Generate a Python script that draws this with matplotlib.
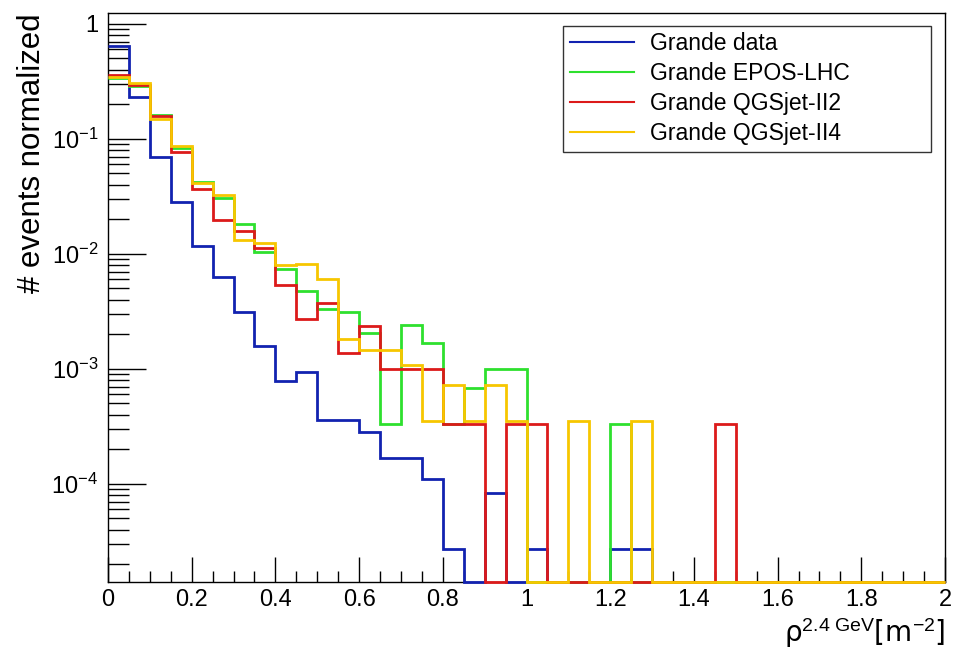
import numpy as np
import matplotlib
matplotlib.use("Agg")
import matplotlib.pyplot as plt
from matplotlib.ticker import FixedLocator, FuncFormatter, MultipleLocator, LogLocator, NullFormatter

plt.rcParams['font.family'] = ['Liberation Sans', 'DejaVu Sans']
plt.rcParams['mathtext.fontset'] = 'custom'
plt.rcParams['mathtext.rm'] = 'Liberation Sans'
plt.rcParams['mathtext.it'] = 'Liberation Sans:italic'

# bin edges 0..2 in steps of 0.05 (40 bins), 0 = empty bin
edges = np.round(np.arange(0, 2.0001, 0.05), 2)

data = [0.64, 0.229, 0.070, 0.0284, 0.0117, 0.0063, 0.0031, 0.00157, 0.00079, 0.00093,
        0.00036, 0.00036, 0.00028, 0.000168, 0.000168, 0.00011, 2.7e-5, 0, 8.3e-5, 0,
        2.7e-5, 0, 0, 0, 2.7e-5, 2.7e-5, 0, 0, 0, 0,
        0, 0, 0, 0, 0, 0, 0, 0, 0, 0]
epos = [0.336, 0.289, 0.160, 0.083, 0.042, 0.0305, 0.0183, 0.0104, 0.0073, 0.0047,
        0.0033, 0.0031, 0.00205, 3.3e-4, 0.0024, 0.00167, 3.3e-4, 6.8e-4, 1.0e-3, 1.0e-3,
        0, 0, 0, 0, 3.3e-4, 0, 0, 0, 0, 0,
        0, 0, 0, 0, 0, 0, 0, 0, 0, 0]
qgs2 = [0.36, 0.296, 0.157, 0.077, 0.0365, 0.0197, 0.0158, 0.0113, 0.0053, 0.0027,
        0.0037, 0.00137, 0.00234, 0.0010, 0.0010, 0.0010, 3.3e-4, 3.3e-4, 0, 3.3e-4,
        3.3e-4, 0, 0, 0, 0, 0, 0, 0, 0, 3.3e-4,
        0, 0, 0, 0, 0, 0, 0, 0, 0, 0]
qgs4 = [0.347, 0.304, 0.148, 0.086, 0.0414, 0.0325, 0.0131, 0.0123, 0.0080, 0.0081,
        0.0060, 0.0018, 0.00145, 0.00145, 0.00107, 3.5e-4, 7.2e-4, 3.5e-4, 7.2e-4, 3.5e-4,
        0, 0, 3.5e-4, 0, 0, 3.5e-4, 0, 0, 0, 0,
        0, 0, 0, 0, 0, 0, 0, 0, 0, 0]

labels = ["Grande data", "Grande EPOS-LHC", "Grande QGSjet-II2", "Grande QGSjet-II4"]
colors = ["#1222b0", "#2ee02e", "#dc1a1a", "#f7c600"]

YMIN, YMAX = 1.4e-5, 1.24


def ylab(y, _):
    if abs(y - 1) < 1e-9:
        return "1"
    return r"$10^{%d}$" % round(np.log10(y))


fig = plt.figure(figsize=(9.57, 6.55), dpi=100)
ax = fig.add_axes([108 / 957, 1 - 582 / 655, 837 / 957, 569 / 655])

for vals, lab, col in zip([data, epos, qgs2, qgs4], labels, colors):
    v = np.asarray(vals, dtype=float)
    v = np.where(v > 0, v, YMIN)  # empty bins drawn on the frame, as ROOT does
    ax.stairs(v, edges, color=col, lw=2, label=lab, baseline=None, clip_on=False, zorder=3)

ax.set_yscale('log')
ax.set_xlim(0, 2)
ax.set_ylim(YMIN, YMAX)

ax.xaxis.set_major_locator(MultipleLocator(0.2))
ax.xaxis.set_minor_locator(MultipleLocator(0.05))
ax.xaxis.set_major_formatter(FuncFormatter(lambda x, _: f"{x:g}"))
ax.yaxis.set_major_locator(FixedLocator([1e-4, 1e-3, 1e-2, 1e-1, 1]))
ax.yaxis.set_minor_locator(LogLocator(base=10, subs=np.arange(2, 10)))
ax.yaxis.set_minor_formatter(NullFormatter())
ax.yaxis.set_major_formatter(FuncFormatter(ylab))

ax.tick_params(axis='x', which='major', direction='in', length=18, width=1, labelsize=17, pad=5)
ax.tick_params(axis='x', which='minor', direction='in', length=8, width=1)
ax.tick_params(axis='y', which='major', direction='in', length=27, width=1, labelsize=17, pad=7)
ax.tick_params(axis='y', which='minor', direction='in', length=15, width=1)
for s in ax.spines.values():
    s.set_linewidth(1)

ax.set_ylabel("# events normalized", fontsize=22.5, loc='top', labelpad=3)
ax.set_xlabel("ρ$^{2.4\\ \\mathrm{GeV}}$[m$^{-2}$]", fontsize=20, loc='right', labelpad=4,
              family=['DejaVu Sans'])

leg = ax.legend(loc='upper left', bbox_to_anchor=(0.5436, 0.0, 0.4397, 0.978), mode='expand',
                borderaxespad=0, fontsize=16.5, frameon=True, fancybox=False, edgecolor='black',
                handlelength=2.8, handletextpad=0.7, labelspacing=0.3, borderpad=0.3)
leg.get_frame().set_linewidth(1)
leg.set_zorder(5)
for h in leg.get_lines():
    h.set_linewidth(1.5)

fig.savefig("out.png", dpi=100)
